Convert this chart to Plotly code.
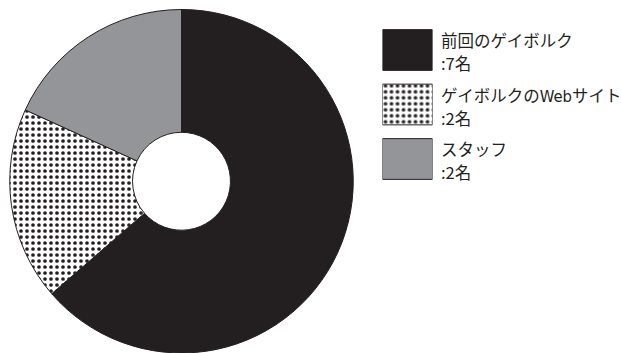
import plotly.graph_objects as go

# Data: where respondents heard about the event
labels = ["前回のゲイボルク", "ゲイボルクのWebサイト", "スタッフ"]
counts = [7, 2, 2]
fill_colors = ["#231f20", "#ffffff", "#939598"]
fill_shapes = ["", ".", ""]

INK = "#231f20"
FONT = "Noto Sans CJK JP"
NARROW = "'Liberation Sans Narrow', 'DejaVu Sans Condensed', 'Noto Sans CJK JP'"
W, H = 621, 353


def pattern(shape):
    return dict(shape=shape, fgcolor=INK, bgcolor="#ffffff",
                size=6, solidity=0.3, fillmode="replace")


fig = go.Figure()

# Donut
fig.add_trace(go.Pie(
    labels=labels, values=counts, sort=False, direction="clockwise",
    rotation=0, hole=0.285,
    marker=dict(colors=fill_colors, line=dict(color=INK, width=1),
                pattern=pattern(fill_shapes)),
    textinfo="none", hoverinfo="skip", showlegend=False,
    domain=dict(x=[9.5 / W, 353.5 / W], y=[0.0, 343.5 / H]),
))

# Large legend swatches: one horizontal bar per category on a hidden axis
for lab, col, shp in zip(labels, fill_colors, fill_shapes):
    fig.add_trace(go.Bar(
        y=[lab], x=[1], orientation="h",
        marker=dict(color=col, line=dict(color=INK, width=1),
                    pattern=pattern(shp)),
        hoverinfo="skip", showlegend=False, xaxis="x2", yaxis="y2",
    ))


def name_text(lab):
    # Latin letters set in a narrower face
    return lab.replace("Web", f"<span style=\"font-family:{NARROW}\">Web</span>")


# Legend text: name on the first line, count below it
for lab, n in zip(labels, counts):
    for txt, shift in ((name_text(lab), 10), (f":{n}名", -13)):
        fig.add_annotation(
            text=txt, xref="paper", yref="y2",
            x=438.5 / W, y=lab, yshift=shift,
            xanchor="left", yanchor="middle", align="left",
            showarrow=False, font=dict(family=FONT, size=16.5, color=INK),
        )

fig.update_layout(
    width=W, height=H, margin=dict(l=0, r=0, t=0, b=0),
    paper_bgcolor="#ffffff", plot_bgcolor="rgba(0,0,0,0)",
    barmode="overlay", bargap=0.253,
    xaxis2=dict(domain=[382.5 / W, 432.5 / W], range=[0, 1], visible=False,
                anchor="y2", fixedrange=True),
    yaxis2=dict(domain=[(H - 186.25) / H, (H - 22.75) / H], visible=False,
                autorange="reversed", anchor="x2", fixedrange=True,
                categoryorder="array", categoryarray=labels),
    xaxis=dict(visible=False), yaxis=dict(visible=False),
    font=dict(family=FONT, color=INK),
)

fig.write_html("out.html")
